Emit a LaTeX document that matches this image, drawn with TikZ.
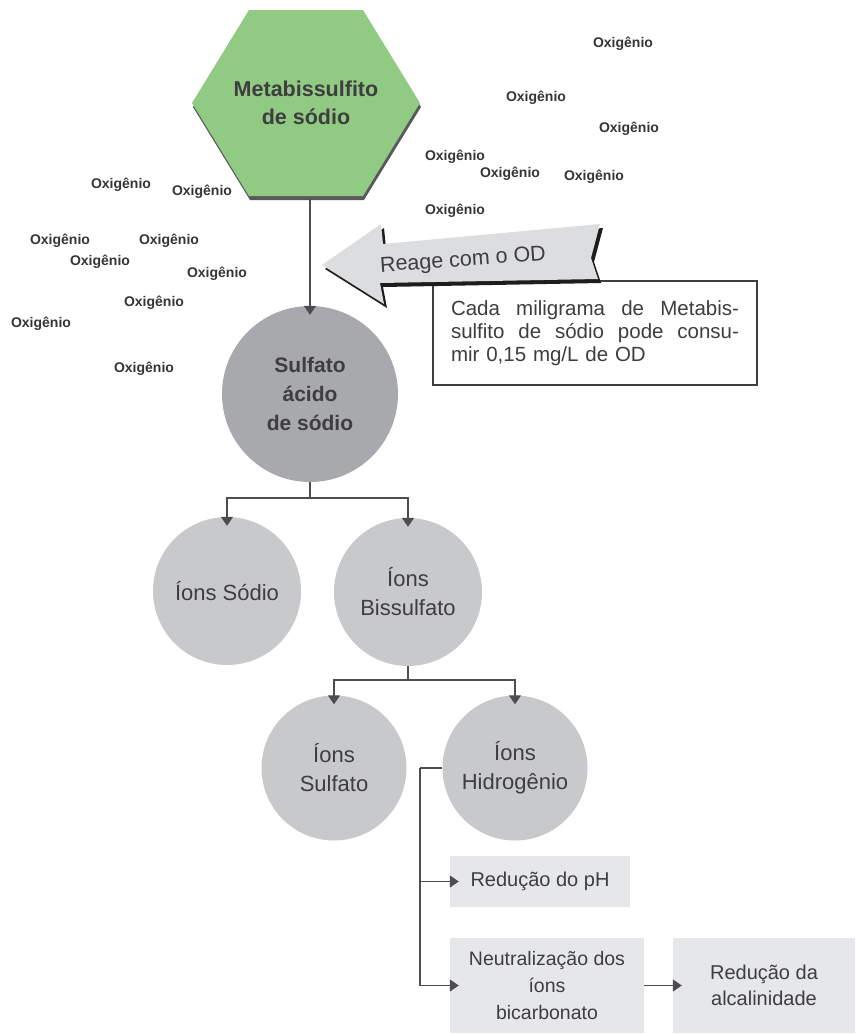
\documentclass[tikz,border=0pt]{standalone}
\usepackage{fontspec}
\setmainfont{Liberation Sans}
\usetikzlibrary{arrows.meta}

\definecolor{hexgreen}{RGB}{145,202,131}
\definecolor{hexshadow}{RGB}{88,89,91}
\definecolor{darkdisc}{RGB}{167,169,172}
\definecolor{lightdisc}{RGB}{200,201,203}
\definecolor{boxgrey}{RGB}{230,231,232}
\definecolor{arrowgrey}{RGB}{220,221,222}
\definecolor{arrowshade}{RGB}{30,28,29}
\definecolor{ink}{RGB}{62,62,64}
\definecolor{wire}{RGB}{77,77,79}

% a full-width justified line: words spread with \hfill
\newcommand{\spreadline}[1]{\leavevmode\hbox to 288pt{#1}}

\begin{document}
\begin{tikzpicture}[x=1pt,y=-1pt,
  wire/.style={draw=wire, line width=1.4pt},
  arr/.style={wire, -{Triangle[length=9pt,width=12pt]}},
  oxy/.style={font=\bfseries\fontsize{14}{16}\selectfont, text=ink!85!black, inner sep=0pt},
  disc/.style={circle, inner sep=0pt, align=center, text=ink},
  ionfont/.style={font=\fontsize{22}{29}\selectfont},
  gbox/.style={rectangle, fill=boxgrey, inner sep=0pt, align=center, text=ink}
]
\useasboundingbox (0,0) rectangle (855,1034);

% hexagon with its drop shadow
\fill[hexshadow, shift={(1,4)}] (249,10) -- (363,10) -- (420,103) -- (363,196) -- (249,196) -- (192,103) -- cycle;
\fill[hexgreen] (249,10) -- (363,10) -- (420,103) -- (363,196) -- (249,196) -- (192,103) -- cycle;
\node[font=\bfseries\fontsize{21.5}{28}\selectfont, text=ink, align=center] (hex) at (306,103) {Metabissulfito\\de sódio};
\coordinate (hexbot) at (310,199);

% oxygen labels
\node[oxy] (ox1) at (623,44) {Oxigênio};
\node[oxy] (ox2) at (536,98) {Oxigênio};
\node[oxy] (ox3) at (629,129) {Oxigênio};
\node[oxy] (ox4) at (455,157) {Oxigênio};
\node[oxy] (ox5) at (510,174) {Oxigênio};
\node[oxy] (ox6) at (594,177) {Oxigênio};
\node[oxy] (ox7) at (455,211) {Oxigênio};
\node[oxy] (ox8) at (121,185) {Oxigênio};
\node[oxy] (ox9) at (202,192) {Oxigênio};
\node[oxy] (ox10) at (60,241) {Oxigênio};
\node[oxy] (ox11) at (169,241) {Oxigênio};
\node[oxy] (ox12) at (100,262) {Oxigênio};
\node[oxy] (ox13) at (217,274) {Oxigênio};
\node[oxy] (ox14) at (154,303) {Oxigênio};
\node[oxy] (ox15) at (41,324) {Oxigênio};
\node[oxy] (ox16) at (144,369) {Oxigênio};

% discs
\node[disc, fill=darkdisc, minimum size=176pt, font=\bfseries\fontsize{21}{29}\selectfont] (sulf) at (310,394) {Sulfato\\ácido\\de sódio};
\node[disc, fill=lightdisc, minimum size=148pt, ionfont] (sodio) at (227,591) {Íons Sódio};
\node[disc, fill=lightdisc, minimum size=148pt, ionfont] (bissulf) at (408,592) {Íons\\Bissulfato};
\node[disc, fill=lightdisc, minimum size=145pt, ionfont] (sulfions) at (334,768) {Íons\\Sulfato};
\node[disc, fill=lightdisc, minimum size=145pt, ionfont] (hidrog) at (515,768) {Íons\\Hidrogênio};

% effect boxes
\node[gbox, minimum width=180pt, minimum height=51pt, font=\fontsize{20}{26}\selectfont] (ph) at (540,881.5) {Redução do pH};
\node[gbox, minimum width=194pt, minimum height=95pt, font=\fontsize{19.5}{27}\selectfont] (neut) at (547,985.5) {Neutralização dos\\íons\\bicarbonato};
\node[gbox, minimum width=182pt, minimum height=95pt, font=\fontsize{20}{26}\selectfont] (alcal) at (764,985.5) {Redução da\\alcalinidade};

% note box
\node[draw=ink, line width=1.8pt, fill=white, minimum height=104pt, text width=288pt, inner xsep=18pt,
      font=\fontsize{20.5}{23}\selectfont, text=ink] (note) at (595,333)
  {\spreadline{Cada\hfill miligrama\hfill de\hfill Metabis-}\\
   \spreadline{sulfito\hfill de\hfill sódio\hfill pode\hfill consu-}\\
   mir 0,15 mg/L de OD};

% block arrow with shadow
\fill[arrowshade, shift={(3,4)}] (322,265) -- (381,224) -- (383,244) -- (600,224) -- (591,258) -- (598,279) -- (380,283) -- (384,304) -- cycle;
\fill[arrowgrey] (322,265) -- (381,224) -- (383,244) -- (600,224) -- (591,258) -- (598,279) -- (380,283) -- (384,304) -- cycle;
\node[rotate=4, font=\fontsize{21.5}{26}\selectfont, text=ink] (reage) at (463,261) {Reage com o OD};

% connectors
\draw[arr] (hexbot) -- ([yshift=-9pt]sulf.north);

\coordinate (split1) at (310,498);
\draw[wire] (sulf.south) -- (split1);
\draw[arr] (split1) -| ([yshift=-9pt]sodio.north);
\draw[arr] (split1) -| ([yshift=-9pt]bissulf.north);

\coordinate (split2) at (408,680);
\draw[wire] (bissulf.south) -- (split2);
\draw[arr] (split2) -| ([yshift=-9pt]sulfions.north);
\draw[arr] (split2) -| ([yshift=-9pt]hidrog.north);

\coordinate (bus) at (420,768);
\draw[wire] (hidrog.west) -- (bus);
\draw[arr] (bus) |- ([xshift=9pt]ph.west);
\draw[arr] (bus) |- ([xshift=9pt]neut.west);
\draw[arr] (neut.east) -- ([xshift=9pt]alcal.west);
\end{tikzpicture}
\end{document}
